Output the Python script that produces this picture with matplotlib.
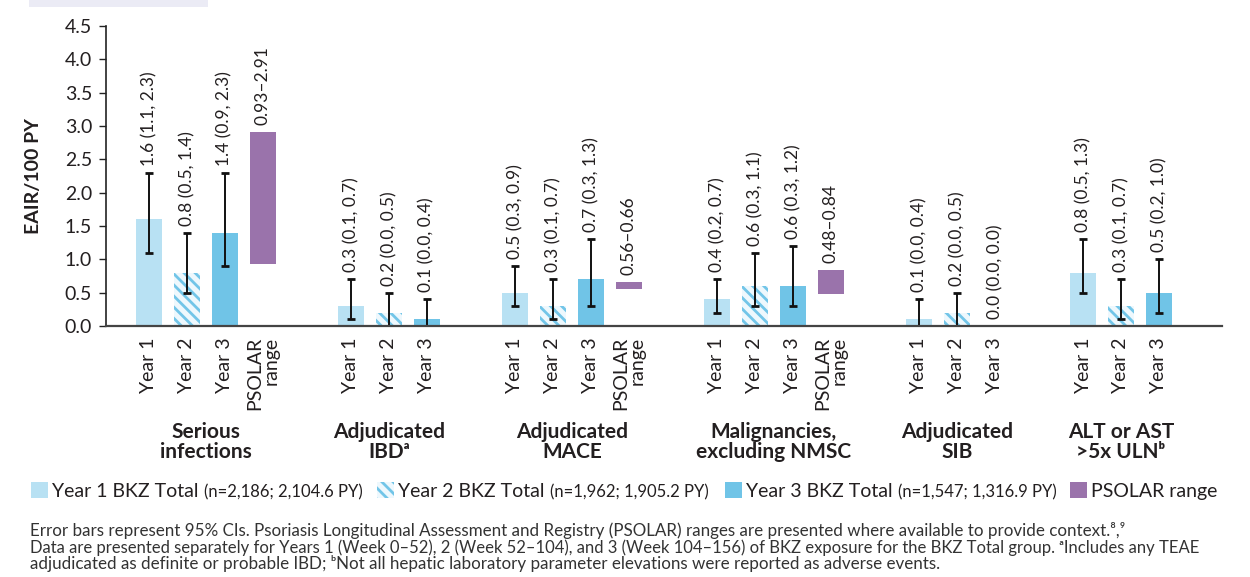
import matplotlib
matplotlib.use("Agg")
import matplotlib.pyplot as plt
from matplotlib.patches import Rectangle

plt.rcParams["font.family"] = ["Lato", "DejaVu Sans"]
plt.rcParams["hatch.linewidth"] = 2.0

# 数据
groups = ["Serious\ninfections", "Adjudicated\nIBDᵃ", "Adjudicated\nMACE",
          "Malignancies,\nexcluding NMSC", "Adjudicated\nSIB", "ALT or AST\n>5x ULNᵇ"]
year1 = [1.6, 0.3, 0.5, 0.4, 0.1, 0.8]
year1_lo = [1.1, 0.1, 0.3, 0.2, 0.0, 0.5]
year1_hi = [2.3, 0.7, 0.9, 0.7, 0.4, 1.3]
year2 = [0.8, 0.2, 0.3, 0.6, 0.2, 0.3]
year2_lo = [0.5, 0.0, 0.1, 0.3, 0.0, 0.1]
year2_hi = [1.4, 0.5, 0.7, 1.1, 0.5, 0.7]
year3 = [1.4, 0.1, 0.7, 0.6, 0.0, 0.5]
year3_lo = [0.9, 0.0, 0.3, 0.3, 0.0, 0.2]
year3_hi = [2.3, 0.4, 1.3, 1.2, 0.0, 1.0]
psolar_lo = [0.93, None, 0.56, 0.48, None, None]
psolar_hi = [2.91, None, 0.66, 0.84, None, None]
psolar_txt = ["0.93–2.91", None, "0.56–0.66", "0.48–0.84", None, None]
yticks = [0.0, 0.5, 1.0, 1.5, 2.0, 2.5, 3.0, 3.5, 4.0, 4.5]

C_Y1 = "#b8e1f3"
C_Y2_BG = "#eef8fd"
C_Y2_HATCH = "#72c5e8"
C_Y3 = "#70c4e7"
C_PS = "#9a73ab"
TXT = "#231f20"
HATCH = "\\\\\\"

W, H = 1250, 577
fig = plt.figure(figsize=(W / 100, H / 100), dpi=100)
ax = fig.add_axes([106 / W, 1 - 326 / H, (1222 - 106) / W, 300 / H])

# 横坐标位置：组内间隔 1，组间多空 1.32
pos = 0.0
tick_x, tick_lab, group_cx = [], [], []
bw = 0.68
for i in range(len(groups)):
    xs = []
    series = [(year1, year1_lo, year1_hi, "Year 1"),
              (year2, year2_lo, year2_hi, "Year 2"),
              (year3, year3_lo, year3_hi, "Year 3")]
    for k, (v, lo, hi, lab) in enumerate(series):
        val = v[i]
        if k == 1:
            ax.bar(pos, val, bw, color=C_Y2_BG, edgecolor=C_Y2_HATCH, hatch=HATCH, linewidth=0)
        else:
            ax.bar(pos, val, bw, color=C_Y1 if k == 0 else C_Y3, linewidth=0)
        if hi[i] > 0:
            ax.errorbar(pos, val, yerr=[[val - lo[i]], [hi[i] - val]], fmt="none",
                        ecolor="#111111", elinewidth=1.4, capsize=3, capthick=2)
        ax.annotate("%.1f (%.1f, %.1f)" % (val, lo[i], hi[i]), (pos, hi[i]),
                    xytext=(0, 5), textcoords="offset points", rotation=90,
                    ha="center", va="bottom", fontsize=12.5, color=TXT)
        tick_x.append(pos)
        tick_lab.append(lab)
        xs.append(pos)
        pos += 1
    if psolar_lo[i] is not None:
        ax.bar(pos, psolar_hi[i] - psolar_lo[i], bw, bottom=psolar_lo[i], color=C_PS, linewidth=0)
        ax.annotate(psolar_txt[i], (pos, psolar_hi[i]), xytext=(0, 5),
                    textcoords="offset points", rotation=90, ha="center",
                    va="bottom", fontsize=12.5, color=TXT)
        tick_x.append(pos)
        tick_lab.append("PSOLAR\nrange")
        xs.append(pos)
        pos += 1
    group_cx.append((xs[0] + xs[-1]) / 2)
    pos += 1.32

ax.set_xlim(-1.13, tick_x[-1] + 1.66)
ax.set_ylim(0, 4.5)
ax.set_yticks(yticks)
ax.set_yticklabels(["%.1f" % t for t in yticks], fontsize=14, color=TXT)
ax.set_xticks(tick_x)
ax.set_xticklabels(tick_lab, rotation=90, fontsize=14, color=TXT,
                   va="top", ha="center", multialignment="right", linespacing=0.95)
ax.tick_params(axis="x", length=0, pad=8)
ax.tick_params(axis="y", length=5, width=1, color="#222222", pad=5)
for s in ["top", "right"]:
    ax.spines[s].set_visible(False)
ax.spines["left"].set_color("#222222")
ax.spines["left"].set_linewidth(1.2)
ax.spines["bottom"].set_color("#444444")
ax.spines["bottom"].set_linewidth(1.6)
ax.set_ylabel("EAIR/100 PY", fontsize=14, fontweight="bold", color=TXT)
ax.yaxis.set_label_coords((42 - 106) / 1116, 0.5)

for cx, g in zip(group_cx, groups):
    ax.text(cx, (326 - 422) / 300, g, transform=ax.get_xaxis_transform(),
            ha="center", va="top", fontsize=15, fontweight="bold",
            color=TXT, linespacing=1.0)

# 图例（手工绘制，字号混排）
fig.canvas.draw()
r = fig.canvas.get_renderer()
legend_items = [
    (31, C_Y1, None, "Year 1 BKZ Total", "(n=2,186; 2,104.6 PY)"),
    (377, C_Y2_BG, HATCH, "Year 2 BKZ Total", "(n=1,962; 1,905.2 PY)"),
    (725, C_Y3, None, "Year 3 BKZ Total", "(n=1,547; 1,316.9 PY)"),
    (1070, C_PS, None, "PSOLAR range", None),
]
ly = 497
for x0, col, hatch, big, small in legend_items:
    if hatch:
        fig.patches.append(Rectangle((x0 / W, 1 - 498 / H), 17 / W, 16 / H,
                                     transform=fig.transFigure, facecolor=col,
                                     edgecolor=C_Y2_HATCH, hatch=hatch, linewidth=0))
    else:
        fig.patches.append(Rectangle((x0 / W, 1 - 498 / H), 17 / W, 16 / H,
                                     transform=fig.transFigure, facecolor=col, linewidth=0))
    t = fig.text((x0 + 21) / W, 1 - ly / H, big, fontsize=14, color=TXT,
                 ha="left", va="baseline")
    if small:
        bb = t.get_window_extent(r)
        fig.text((bb.x1 + 5) / W, 1 - ly / H, small, fontsize=12, color=TXT,
                 ha="left", va="baseline")

# 顶部色块
fig.patches.append(Rectangle((29 / W, 1 - 7 / H), 179 / W, 7 / H,
                             transform=fig.transFigure, facecolor="#ebebf5", linewidth=0))

# 脚注：按参考图每行的右端调整字号
notes = [
    "Error bars represent 95% CIs. Psoriasis Longitudinal Assessment and Registry (PSOLAR) ranges are presented where available to provide context.⁸,⁹",
    "Data are presented separately for Years 1 (Week 0–52), 2 (Week 52–104), and 3 (Week 104–156) of BKZ exposure for the BKZ Total group. ᵃIncludes any TEAE",
    "adjudicated as definite or probable IBD; ᵇNot all hepatic laboratory parameter elevations were reported as adverse events.",
]
note_end = [1123, 1200, 940]
note_base = [536, 553, 569]
for line, xe, yb in zip(notes, note_end, note_base):
    t = fig.text(30 / W, 1 - yb / H, line, fontsize=11, color="#333333",
                 ha="left", va="baseline")
    wpx = t.get_window_extent(r).width
    t.set_fontsize(11 * (xe - 30) / wpx)

plt.savefig("out.png", dpi=100)
plt.close()
